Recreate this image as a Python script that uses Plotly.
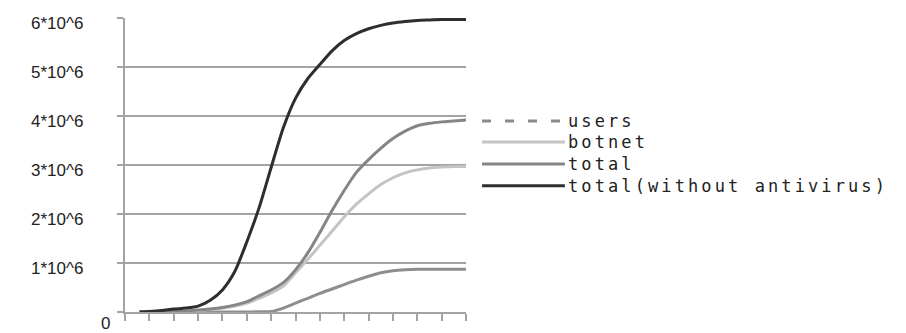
import plotly.graph_objects as go

# ---- data (values in millions) ----
t_values = [0.6, 1.0, 1.5, 2.0, 2.5, 3.0, 3.5, 4.0, 4.5, 5.0, 5.5, 6.0, 6.5, 7.0,
            7.5, 8.0, 8.5, 9.0, 9.5, 10.0, 10.5, 11.0, 11.5, 12.0, 12.5, 13.0, 13.5, 14.0]
users = [0, 0, 0, 0, 0, 0, 0, 0, 0, 0, 0.005, 0.01, 0.08, 0.18,
         0.28, 0.38, 0.47, 0.56, 0.65, 0.73, 0.8, 0.84, 0.86, 0.87, 0.87, 0.87, 0.87, 0.87]
botnet = [0, 0, 0, 0.005, 0.01, 0.03, 0.05, 0.08, 0.12, 0.18, 0.28, 0.39, 0.53, 0.8,
          1.07, 1.36, 1.65, 1.94, 2.2, 2.41, 2.6, 2.74, 2.84, 2.9, 2.94, 2.96, 2.97, 2.97]
total = [0, 0, 0, 0.01, 0.02, 0.04, 0.06, 0.09, 0.14, 0.21, 0.33, 0.45, 0.6, 0.86,
         1.2, 1.62, 2.07, 2.48, 2.85, 3.11, 3.34, 3.54, 3.69, 3.8, 3.85, 3.88, 3.9, 3.92]
total_no_av = [0, 0.01, 0.03, 0.06, 0.08, 0.12, 0.24, 0.45, 0.82, 1.43, 2.12, 2.95, 3.76, 4.36,
               4.76, 5.05, 5.33, 5.54, 5.68, 5.78, 5.85, 5.9, 5.93, 5.95, 5.96, 5.97, 5.97, 5.97]

y_tick_values = [1, 2, 3, 4, 5, 6]
y_tick_labels = ["1*10^6", "2*10^6", "3*10^6", "4*10^6", "5*10^6", "6*10^6"]
zero_label = "0"
x_tick_values = list(range(0, 15))

legend_labels = ["users", "botnet", "total", "total(without antivirus)"]
legend_colors = ["#8a8a8a", "#c4c4c4", "#858585", "#2e2e2e"]
legend_dash = ["9px,14px", "solid", "solid", "solid"]
legend_rows = [0.650, 0.578, 0.503, 0.429]

series = [("users", users, "#8e8e8e"),
          ("botnet", botnet, "#c4c4c4"),
          ("total", total, "#858585"),
          ("total(without antivirus)", total_no_av, "#2e2e2e")]

fig = go.Figure()
for name, vals, col in series:
    fig.add_trace(go.Scatter(
        x=t_values, y=vals, mode="lines", name=name, showlegend=False,
        line=dict(color=col, width=3, shape="spline", smoothing=0.7),
        hoverinfo="skip"))

grid_col = "#a3a3a3"
# page body has an 8px default margin, so the figure is 8px smaller than the window
fig.update_layout(
    width=898, height=325,
    margin=dict(l=117, r=440, t=10, b=21),
    paper_bgcolor="white", plot_bgcolor="white",
    showlegend=False,
    xaxis=dict(range=[0, 14], tickvals=x_tick_values, showticklabels=False,
               showgrid=False, zeroline=False, showline=True, linecolor=grid_col,
               linewidth=2, ticks="outside", ticklen=7, tickwidth=2, tickcolor=grid_col),
    yaxis=dict(range=[0, 6], tickvals=[0] + y_tick_values, showticklabels=False,
               showgrid=True, gridcolor=grid_col, gridwidth=2, zeroline=False,
               showline=True, linecolor=grid_col, linewidth=2,
               ticks="outside", ticklen=6, tickwidth=2, tickcolor=grid_col),
)

tick_font = dict(family="Liberation Sans", size=17, color="#222")
for v, lab in zip(y_tick_values, y_tick_labels):
    fig.add_annotation(x=-0.117, xref="paper", y=v, yref="y", text=lab,
                       showarrow=False, xanchor="right", yanchor="middle",
                       yshift=-5, font=tick_font)
fig.add_annotation(x=-0.038, xref="paper", y=0, yref="y", text=zero_label,
                   showarrow=False, xanchor="right", yanchor="middle",
                   yshift=-11, font=tick_font)

# manual legend
for lab, col, dash, ry in zip(legend_labels, legend_colors, legend_dash, legend_rows):
    fig.add_shape(type="line", xref="paper", yref="paper",
                  x0=1.047, x1=1.290, y0=ry, y1=ry,
                  line=dict(color=col, width=3, dash=dash))
    fig.add_annotation(x=1.293, xref="paper", y=ry, yref="paper",
                       text='<span style="letter-spacing:3.1px">' + lab + '</span>',
                       showarrow=False, xanchor="left", yanchor="middle",
                       font=dict(family="DejaVu Sans Mono", size=17, color="#222"))

fig.write_html("out.html")
